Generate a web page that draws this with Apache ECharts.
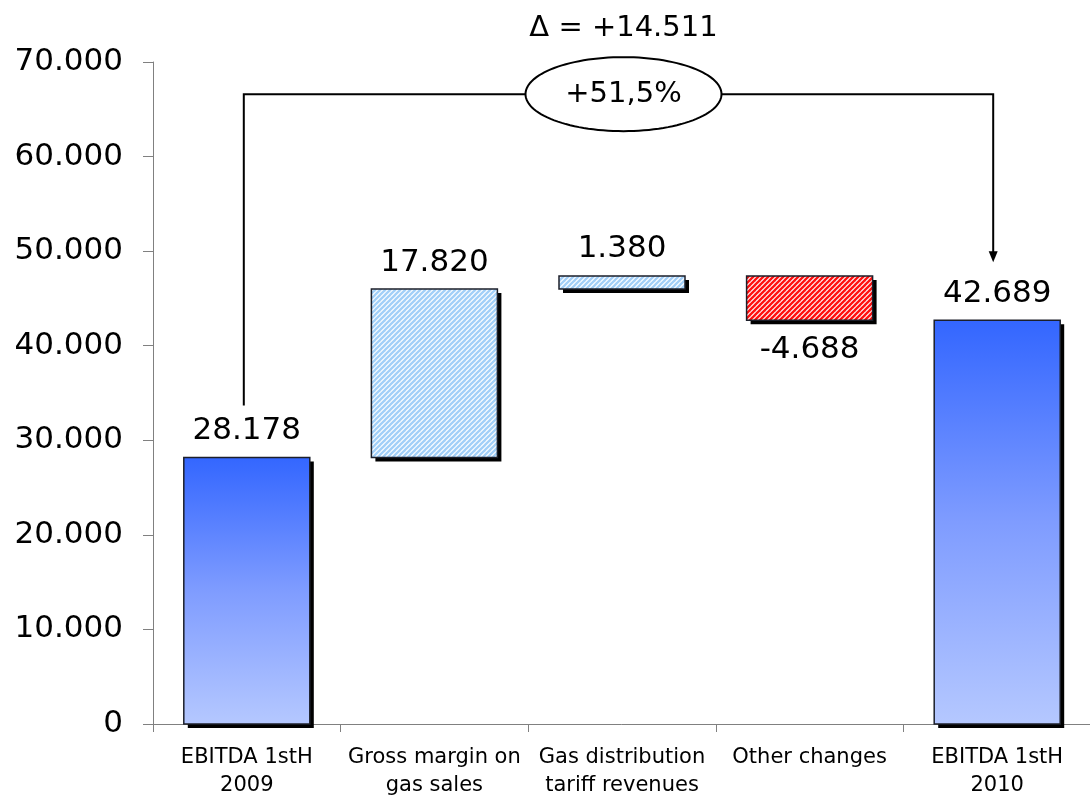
<!DOCTYPE html>
<html>
<head>
<meta charset="utf-8">
<script src="https://cdn.jsdelivr.net/npm/echarts@6/dist/echarts.min.js"></script>
<style>
  html, body { margin: 0; padding: 0; background: #ffffff; }
  #chart { width: 1090px; height: 796px; }
</style>
</head>
<body>
<div id="chart"></div>
<script>
// EBITDA bridge: first half 2009 -> first half 2010
const categories = [
  'EBITDA 1stH\n2009',
  'Gross margin on\ngas sales',
  'Gas distribution\ntariff revenues',
  'Other changes',
  'EBITDA 1stH\n2010'
];
const changes = [28178, 17820, 1380, -4688, 42689];
const kinds = ['total', 'up', 'up', 'down', 'total'];
const yMin = 0;
const yMax = 70000;
const yStep = 10000;

const FONT = '"DejaVu Sans", Verdana, sans-serif';

function fmt(v) {
  const s = Math.abs(Math.round(v)).toString().replace(/\B(?=(\d{3})+(?!\d))/g, '.');
  return (v < 0 ? '-' : '') + s;
}

// diagonal "////" hatch tile
function stripes(fg, size, width) {
  const c = document.createElement('canvas');
  c.width = c.height = size;
  const g = c.getContext('2d');
  g.fillStyle = '#ffffff';
  g.fillRect(0, 0, size, size);
  g.strokeStyle = fg;
  g.lineWidth = width;
  for (let k = -1; k <= 1; k++) {
    g.beginPath();
    g.moveTo(k * size - 1, size + 1);
    g.lineTo(k * size + size + 1, -1);
    g.stroke();
  }
  return c;
}

const fills = {
  total: new echarts.graphic.LinearGradient(0, 0, 0, 1, [
    { offset: 0, color: '#3366ff' },
    { offset: 0.5, color: '#7f9cff' },
    { offset: 1, color: '#b5c8ff' }
  ]),
  up: { image: stripes('#a2cff8', 5, 2.3), repeat: 'repeat' },
  down: { image: stripes('#ff1010', 5, 2.4), repeat: 'repeat' }
};

// each step of the bridge as [category, low, high, change]
const steps = [];
let running = 0;
changes.forEach((v, i) => {
  if (kinds[i] === 'total') {
    steps.push([i, 0, v, v]);
    running = v;
  } else {
    const lo = v >= 0 ? running : running + v;
    steps.push([i, lo, lo + Math.abs(v), v]);
    running += v;
  }
});

const BAR_W = 126;
const SHADOW = 4;

function renderStep(params, api) {
  const i = api.value(0);
  const lo = api.value(1);
  const hi = api.value(2);
  const kind = kinds[params.dataIndex];
  const pHi = api.coord([i, hi]);
  const pLo = api.coord([i, lo]);
  const x = pHi[0] - BAR_W / 2;
  const y = pHi[1];
  const h = pLo[1] - pHi[1];
  const below = kind === 'down';
  return {
    type: 'group',
    children: [
      { type: 'rect', shape: { x: x + SHADOW, y: y + SHADOW, width: BAR_W, height: h }, style: { fill: '#000000' } },
      { type: 'rect', shape: { x: x, y: y, width: BAR_W, height: h },
        style: { fill: fills[kind], stroke: '#1c1f2a', lineWidth: 1.5 } },
      { type: 'text', x: pHi[0], y: below ? pLo[1] + 14 : pHi[1] - 11,
        style: {
          text: fmt(changes[params.dataIndex]), fontSize: 31, fontFamily: FONT, fill: '#000000',
          align: 'center', verticalAlign: below ? 'top' : 'bottom'
        } }
    ]
  };
}

const chart = echarts.init(document.getElementById('chart'), null, { renderer: 'canvas' });

chart.setOption({
  animation: false,
  backgroundColor: '#ffffff',
  textStyle: { fontFamily: FONT },
  grid: { left: 153, top: 62, width: 938, bottom: 72, containLabel: false, outerBoundsMode: 'none' },
  xAxis: {
    type: 'category',
    data: categories,
    axisLine: { lineStyle: { color: '#808080', width: 1 } },
    axisTick: { show: true, length: 8, lineStyle: { color: '#808080' } },
    axisLabel: {
      interval: 0, fontSize: 21, lineHeight: 28, color: '#000000',
      fontFamily: FONT, margin: 20
    },
    splitLine: { show: false }
  },
  yAxis: {
    type: 'value',
    min: yMin, max: yMax, interval: yStep,
    axisLine: { show: true, lineStyle: { color: '#808080', width: 1 } },
    axisTick: { show: true, length: 10, lineStyle: { color: '#808080' } },
    axisLabel: { fontSize: 31, color: '#000000', fontFamily: FONT, margin: 30, formatter: fmt },
    splitLine: { show: false }
  },
  series: [
    {
      type: 'custom',
      renderItem: renderStep,
      encode: { x: 0, y: [1, 2] },
      data: steps
    }
  ]
});

// bracket connecting the two EBITDA bars, with the difference on top
const first = changes[0];
const last = changes[changes.length - 1];
const delta = last - first;
const pct = (delta / first * 100).toFixed(1).replace('.', ',');

const xL = chart.convertToPixel({ xAxisIndex: 0 }, 0) - 3;
const xR = chart.convertToPixel({ xAxisIndex: 0 }, categories.length - 1) - 4;
const yTop = chart.convertToPixel({ yAxisIndex: 0 }, 66600);
const yLeftEnd = chart.convertToPixel({ yAxisIndex: 0 }, first) - 52;
const yTip = chart.convertToPixel({ yAxisIndex: 0 }, last) - 58;
const cx = (xL + xR) / 2 + 5;
const rx = 98, ry = 37;
const ellipse = [];
for (let k = 0; k < 120; k++) {
  const a = k / 120 * Math.PI * 2;
  ellipse.push([cx + rx * Math.cos(a), yTop + ry * Math.sin(a)]);
}

chart.setOption({
  graphic: [
    {
      type: 'polyline', z: 10,
      shape: { points: [[xL, yLeftEnd], [xL, yTop], [xR, yTop], [xR, yTip - 9]] },
      style: { stroke: '#000000', lineWidth: 2, fill: null }
    },
    {
      type: 'polygon', z: 10,
      shape: { points: [[xR - 4.5, yTip - 11], [xR + 4.5, yTip - 11], [xR, yTip]] },
      style: { fill: '#000000' }
    },
    {
      type: 'polygon', z: 11,
      shape: { points: ellipse },
      style: { fill: '#ffffff', stroke: '#000000', lineWidth: 2 }
    },
    {
      type: 'text', z: 12,
      x: cx, y: yTop,
      style: {
        text: '+' + pct + '%', fontSize: 29, fontFamily: FONT, fill: '#000000',
        align: 'center', verticalAlign: 'middle'
      }
    },
    {
      type: 'text', z: 12,
      x: cx, y: yTop - 66,
      style: {
        text: '\u0394 = +' + fmt(delta), fontSize: 29, fontFamily: FONT, fill: '#000000',
        align: 'center', verticalAlign: 'middle'
      }
    }
  ]
});
</script>
</body>
</html>
